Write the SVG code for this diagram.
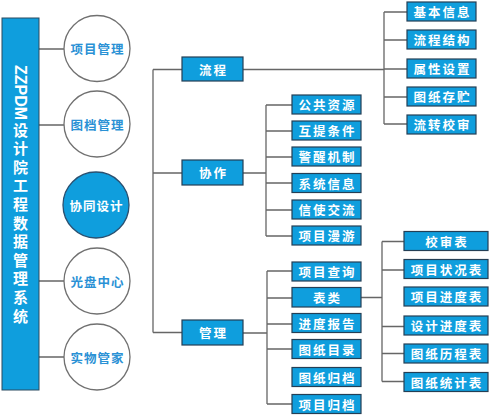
<svg xmlns="http://www.w3.org/2000/svg" width="491" height="416" viewBox="0 0 491 416">
<style>
.b{fill:#0f9edd;stroke:#243f55;stroke-width:1.2}
.bt{fill:#fff;font-family:"Noto Sans CJK SC","Noto Sans",sans-serif;font-weight:bold;font-size:12.5px;text-anchor:middle;dominant-baseline:central;letter-spacing:2px}
.c{fill:#fff;stroke:#707070;stroke-width:1.3}
.ct{fill:#2a91d5;font-family:"Noto Sans CJK SC","Noto Sans",sans-serif;font-weight:bold;font-size:12.5px;text-anchor:middle;dominant-baseline:central;letter-spacing:1px}
.ln{fill:none;stroke:#666;stroke-width:1.3}
</style>
<rect width="491" height="416" fill="#fff"/>
<g id="connectors" class="ln">
<path d="M39,49H64M39,125H64M39,281H64M39,357H64"/>
<path d="M153,69.5V332.5M153,69.5H182M153,173H182M153,332.5H182"/>
<path d="M243,69.5H384M384,12V124M384,12H407M384,40H407M384,69H407M384,97H407M384,124H407"/>
<path d="M243,173H266M266,105V236M266,105H292M266,131H292M266,157H292M266,183H292M266,210H292M266,236H292"/>
<path d="M243,333H267M267,271V404M267,271H292M267,298H292M267,324H292M267,349H292M267,404H292"/>
<path d="M361,297.5H382M382,241.5V381.5M382,241.5H404M382,270H404M382,326.5H404M382,353.5H404M382,381.5H404"/>
</g>
<g id="title">
<rect x="2" y="18" width="37" height="372" fill="#0f9edd" stroke="#2a4a60" stroke-width="1"/>
<text x="20.5" y="65" style="writing-mode:vertical-rl" fill="#fff" font-family="'Noto Sans CJK SC','Liberation Sans',sans-serif" font-weight="bold"><tspan font-size="16" font-family="'Liberation Sans',sans-serif">ZZPDM</tspan><tspan font-size="15" y="122.5 141.1 159.7 178.3 196.9 215.5 234.1 252.7 271.3 289.9 308.5 327.1">设计院工程数据管理系统</tspan></text>
</g>
<g id="c1"><circle class="c" cx="97" cy="48.5" r="33"/><text class="ct" x="97.5" y="48.5">项目管理</text></g>
<g id="c2"><circle class="c" cx="97" cy="124" r="33"/><text class="ct" x="97.5" y="124">图档管理</text></g>
<g id="c3"><circle cx="96" cy="205" r="33" fill="#0f9edd" stroke="#2a5070" stroke-width="1.3"/><text class="ct" x="96.5" y="205" style="fill:#fff">协同设计</text></g>
<g id="c4"><circle class="c" cx="97" cy="281" r="33"/><text class="ct" x="97.5" y="281">光盘中心</text></g>
<g id="c5"><circle class="c" cx="97" cy="357" r="33"/><text class="ct" x="97.5" y="357">实物管家</text></g>
<g id="liucheng"><rect class="b" x="182" y="57" width="61" height="24"/><text class="bt" x="213.5" y="69">流程</text></g>
<g id="xiezuo"><rect class="b" x="182" y="160" width="61" height="25"/><text class="bt" x="213.5" y="172.5">协作</text></g>
<g id="guanli"><rect class="b" x="182" y="320" width="61" height="25"/><text class="bt" x="213.5" y="332.5">管理</text></g>
<g id="r1"><rect class="b" x="407" y="2" width="69" height="19"/><text class="bt" x="442.5" y="11.5">基本信息</text></g>
<g id="r2"><rect class="b" x="407" y="30" width="69" height="19"/><text class="bt" x="442.5" y="39.5">流程结构</text></g>
<g id="r3"><rect class="b" x="407" y="59" width="69" height="19"/><text class="bt" x="442.5" y="68.5">属性设置</text></g>
<g id="r4"><rect class="b" x="407" y="87" width="69" height="19"/><text class="bt" x="442.5" y="96.5">图纸存贮</text></g>
<g id="r5"><rect class="b" x="407" y="115" width="69" height="19"/><text class="bt" x="442.5" y="124.5">流转校审</text></g>
<g id="x1"><rect class="b" x="292" y="95" width="69" height="19"/><text class="bt" x="327.5" y="104.5">公共资源</text></g>
<g id="x2"><rect class="b" x="292" y="121" width="69" height="19"/><text class="bt" x="327.5" y="130.5">互提条件</text></g>
<g id="x3"><rect class="b" x="292" y="147" width="69" height="19"/><text class="bt" x="327.5" y="156.5">警醒机制</text></g>
<g id="x4"><rect class="b" x="292" y="173.5" width="69" height="19"/><text class="bt" x="327.5" y="183">系统信息</text></g>
<g id="x5"><rect class="b" x="292" y="200" width="69" height="19"/><text class="bt" x="327.5" y="209.5">信使交流</text></g>
<g id="x6"><rect class="b" x="292" y="226" width="69" height="19"/><text class="bt" x="327.5" y="235.5">项目漫游</text></g>
<g id="g1"><rect class="b" x="292" y="262" width="69" height="19"/><text class="bt" x="327.5" y="271.5">项目查询</text></g>
<g id="g2"><rect class="b" x="292" y="287.5" width="69" height="19.5"/><text class="bt" x="327.5" y="297.5">表类</text></g>
<g id="g3"><rect class="b" x="292" y="313.5" width="69" height="19"/><text class="bt" x="327.5" y="323">进度报告</text></g>
<g id="g4"><rect class="b" x="292" y="339.5" width="69" height="19"/><text class="bt" x="327.5" y="349">图纸目录</text></g>
<g id="g5"><rect class="b" x="292" y="367.5" width="69" height="19"/><text class="bt" x="327.5" y="377">图纸归档</text></g>
<g id="g6"><rect class="b" x="292" y="394.5" width="69" height="19"/><text class="bt" x="327.5" y="404">项目归档</text></g>
<g id="t1"><rect class="b" x="404" y="231.5" width="84" height="19"/><text class="bt" x="447" y="241">校审表</text></g>
<g id="t2"><rect class="b" x="404" y="259.5" width="84" height="19"/><text class="bt" x="447" y="269">项目状况表</text></g>
<g id="t3"><rect class="b" x="404" y="287" width="84" height="19"/><text class="bt" x="447" y="296.5">项目进度表</text></g>
<g id="t4"><rect class="b" x="404" y="316" width="84" height="19"/><text class="bt" x="447" y="325.5">设计进度表</text></g>
<g id="t5"><rect class="b" x="404" y="344" width="84" height="19"/><text class="bt" x="447" y="353.5">图纸历程表</text></g>
<g id="t6"><rect class="b" x="404" y="372.5" width="84" height="19"/><text class="bt" x="447" y="382">图纸统计表</text></g>
</svg>
